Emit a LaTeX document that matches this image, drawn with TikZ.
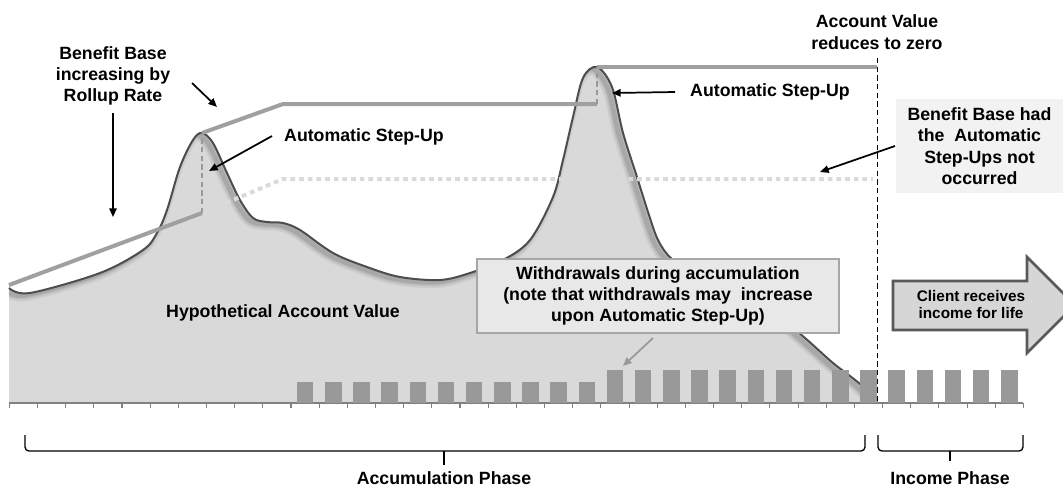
\documentclass[tikz,border=0pt]{standalone}
\usepackage{fontspec}
\setmainfont{Liberation Sans}
\usetikzlibrary{arrows.meta}
\definecolor{areafill}{HTML}{D9D9D9}
\definecolor{outlinecol}{HTML}{4D4D4D}
\definecolor{bbline}{HTML}{A0A0A0}
\definecolor{barcol}{HTML}{999999}
\definecolor{dotcol}{HTML}{DADADA}
\definecolor{boxfill}{HTML}{E8E8E8}
\definecolor{boxdraw}{HTML}{A6A6A6}
\definecolor{notefill}{HTML}{F2F2F2}
\definecolor{arrowfill}{HTML}{D6D6D6}
\definecolor{arrowdraw}{HTML}{595959}
\definecolor{tickcol}{HTML}{808080}
\begin{document}
\begin{tikzpicture}[x=0.75pt,y=-0.75pt,
  lbl/.style={font=\fontsize{13.3}{16}\selectfont\bfseries, align=center, inner sep=0pt},
  pointer/.style={-{Triangle[length=6.5pt,width=5.5pt]}, line width=1.3pt, black},
  greypointer/.style={-{Triangle[length=6.5pt,width=5.5pt]}, line width=1.3pt, barcol},
  bbl/.style={bbline, line width=3pt},
  stepdash/.style={barcol, line width=1.1pt, dash pattern=on 4pt off 2.5pt},
  dotline/.style={dotcol, line width=3pt, dash pattern=on 3.5pt off 3pt},
  wbar/.style={fill=barcol, draw=none},
  bracecol/.style={black, line width=1pt, rounded corners=3pt}]
\useasboundingbox (0,0) rectangle (1063,487);
\fill[white] (0,0) rectangle (1063,487);

% account value area
\path[save path=\avarea] (9,403) -- plot[smooth,tension=0.55] coordinates {(9,288) (30,293) (100,273) (143,250) (157,233) (167,210) (180,167) (193,140) (202,133) (213,143) (227,173) (240,200) (253,218) (267,222) (283,223) (300,230) (333,253) (367,267) (400,277) (440,280) (470,273) (503,260) (530,240) (553,197) (563,160) (573,117) (583,78) (597,67) (612,87) (623,133) (637,177) (648,212) (658,240) (672,259) (700,275) (740,295) (780,318) (805,338) (833,363) (860,384) (877,402)} -- (877,403) -- cycle;
\path[save path=\avline] plot[smooth,tension=0.55] coordinates {(9,288) (30,293) (100,273) (143,250) (157,233) (167,210) (180,167) (193,140) (202,133) (213,143) (227,173) (240,200) (253,218) (267,222) (283,223) (300,230) (333,253) (367,267) (400,277) (440,280) (470,273) (503,260) (530,240) (553,197) (563,160) (573,117) (583,78) (597,67) (612,87) (623,133) (637,177) (648,212) (658,240) (672,259) (700,275) (740,295) (780,318) (805,338) (833,363) (860,384) (877,402)};
\fill[areafill, use path=\avarea];
\begin{scope}
  \clip[use path=\avarea];
  \begin{scope}[transform canvas={shift={(-3pt,-1.5pt)}}]
    \draw[black, opacity=0.06, line width=9pt, use path=\avline];
    \draw[black, opacity=0.08, line width=6pt, use path=\avline];
    \draw[black, opacity=0.10, line width=3.5pt, use path=\avline];
  \end{scope}
\end{scope}
\draw[outlinecol, line width=1.5pt, use path=\avline];

% benefit base lines
\coordinate (s1low) at (202,213);
\coordinate (s1high) at (202,133);
\coordinate (s2low) at (597,104);
\coordinate (s2high) at (597,67);
\coordinate (bbstart) at (9,285);
\coordinate (bbknee) at (283,104);
\coordinate (bbend) at (877,67);
\coordinate (dotknee) at (283,179);
\coordinate (dotend) at (873,179);
\draw[dotline] (s1low) -- (dotknee) -- (dotend);
\draw[bbl] (bbstart) -- (s1low);
\draw[bbl] (s1high) -- (bbknee) -- (s2low);
\draw[bbl] (s2high) -- (bbend);
\draw[stepdash] (s1low) -- (s1high);
\draw[stepdash] (s2low) -- (s2high);

% axis and ticks
\draw[tickcol, line width=0.8pt] (9.3,403) -- (1023,403);
\foreach \i in {0,...,36}{
  \draw[tickcol, line width=0.8pt] ({9.3+\i*28.17},403) -- ++(0,5);
}
% withdrawal bars
\foreach \i in {10,...,20}{
  \fill[wbar] ({9.3+(\i+0.5)*28.17-8.25},382) rectangle ++(16.5,21);
}
\foreach \i in {21,...,35}{
  \fill[wbar] ({9.3+(\i+0.5)*28.17-8.25},370) rectangle ++(16.5,33);
}

% vertical dashed line
\coordinate (vtop) at (877.5,58);
\coordinate (vbot) at (877.5,403);
\draw[black, line width=0.9pt, dash pattern=on 4pt off 2.5pt] (vtop) -- (vbot);

% boxes
\node[lbl, fill=notefill, minimum width=125.25pt, minimum height=70.5pt] (bbnote) at (979.5,146)
  {Benefit Base had\\the\ \ Automatic\\Step-Ups not\\occurred};
\node[lbl, fill=boxfill, draw=boxdraw, line width=0.8pt, minimum width=271.5pt, minimum height=55.5pt] (wbox) at (658,296)
  {Withdrawals during accumulation\\(note that withdrawals may\ \ increase\\upon Automatic Step-Up)};

% block arrow
\begin{scope}
  \clip (0,0) rectangle (1063,487);
  \draw[fill=arrowfill, draw=arrowdraw, line width=2pt, line join=miter]
    (893,281) -- (1027,281) -- (1027,257) -- (1075,305) -- (1027,353) -- (1027,330) -- (893,330) -- cycle;
\end{scope}
\node[lbl, font=\fontsize{11.5}{12.75}\selectfont\bfseries] (client) at (971,305) {Client receives\\income for life};

% labels
\node[lbl] (bbtxt) at (113,76) {Benefit Base\\increasing by\\Rollup Rate};
\node[lbl] (asu1) at (364,137) {Automatic Step-Up};
\node[lbl] (asu2) at (770,92) {Automatic Step-Up};
\node[lbl] (avz) at (877,32) {Account Value\\reduces to zero};
\node[lbl] (hav) at (283,313) {Hypothetical Account Value};
\node[lbl] (accph) at (444,478) {Accumulation Phase};
\node[lbl] (incph) at (950,478) {Income Phase};

% pointers
\coordinate (p1a) at (113,113); \coordinate (p1b) at (113,217);
\coordinate (p2a) at (192,83);  \coordinate (p2b) at (217,107);
\coordinate (p3a) at (272,136); \coordinate (p3b) at (209,171);
\coordinate (p4a) at (675,92);  \coordinate (p4b) at (612,93);
\coordinate (p5a) at (895,146); \coordinate (p5b) at (820,172);
\coordinate (p6a) at (653,338); \coordinate (p6b) at (623,366);
\draw[pointer] (p1a) -- (p1b);
\draw[pointer] (p2a) -- (p2b);
\draw[pointer] (p3a) -- (p3b);
\draw[pointer] (p4a) -- (p4b);
\draw[pointer] (p5a) -- (p5b);
\draw[greypointer] (p6a) -- (p6b);

% braces
\draw[bracecol] (25,435) -- (25,451) -- (865,451) -- (865,435);
\draw[black, line width=1pt] (444,451) -- (444,465);
\draw[bracecol] (878,435) -- (878,451) -- (1023,451) -- (1023,435);
\draw[black, line width=1pt] (950,451) -- (950,461);
\end{tikzpicture}
\end{document}
